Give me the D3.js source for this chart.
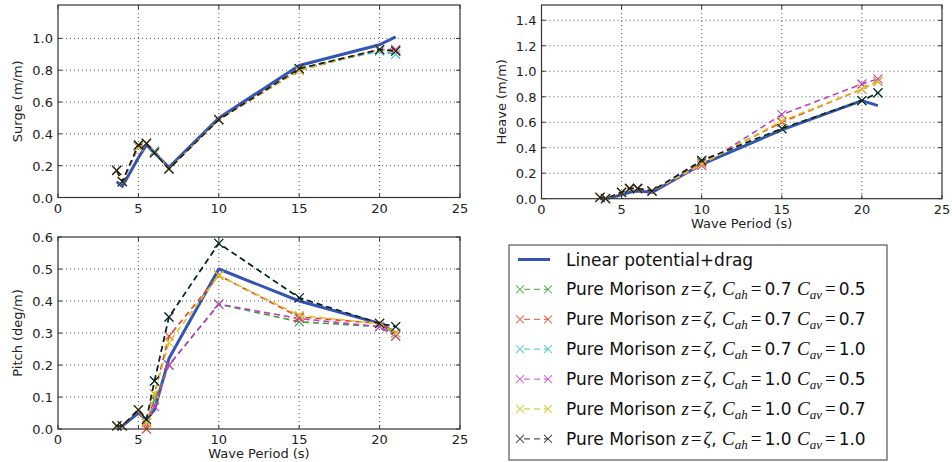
<!DOCTYPE html>
<html>
<head>
<meta charset="utf-8">
<script src="https://cdn.jsdelivr.net/npm/d3@7"></script>
<style>
  body { margin: 0; background: #fff; }
  svg { display: block; font-family: "DejaVu Sans", sans-serif; }
</style>
</head>
<body>
<div id="chart"></div>
<script>
// wave periods (s)
const periods = [3.65, 4, 5, 5.5, 6, 6.9, 10, 15, 20, 21];

// Linear potential + drag
const surgeLinear = [0.10, 0.07, 0.25, 0.33, 0.28, 0.19, 0.50, 0.83, 0.96, 1.01];
const heaveLinear = [0.00, 0.00, 0.03, 0.05, 0.06, 0.05, 0.27, 0.54, 0.77, 0.73];
const pitchLinear = [0.00, 0.01, 0.05, 0.03, 0.06, 0.22, 0.50, 0.40, 0.33, 0.30];

// Pure Morison, one row per (Cah, Cav) case
const cahValues = ["0.7", "0.7", "0.7", "1.0", "1.0", "1.0"];
const cavValues = ["0.5", "0.7", "1.0", "0.5", "0.7", "1.0"];
const morisonColors = ["#3a9d3a", "#f03c2c", "#2cc0c8", "#c040c0", "#d4c820", "#1a1a1a"];

const surgeMorison = [
  [0.17, 0.10, 0.32, 0.34, 0.29, 0.18, 0.49, 0.81, 0.93, 0.92],
  [0.17, 0.10, 0.32, 0.34, 0.29, 0.18, 0.49, 0.80, 0.93, 0.93],
  [0.17, 0.10, 0.33, 0.34, 0.29, 0.18, 0.49, 0.81, 0.92, 0.90],
  [0.17, 0.10, 0.32, 0.34, 0.28, 0.18, 0.49, 0.80, 0.93, 0.93],
  [0.17, 0.10, 0.32, 0.34, 0.28, 0.18, 0.49, 0.80, 0.93, 0.92],
  [0.17, 0.10, 0.33, 0.34, 0.28, 0.18, 0.49, 0.81, 0.93, 0.92]
];
const heaveMorison = [
  [0.01, 0.00, 0.05, 0.08, 0.08, 0.06, 0.29, 0.55, 0.77, 0.83],
  [0.01, 0.00, 0.05, 0.08, 0.08, 0.06, 0.28, 0.60, 0.86, 0.92],
  [0.01, 0.00, 0.05, 0.08, 0.08, 0.06, 0.30, 0.55, 0.77, 0.83],
  [0.01, 0.00, 0.05, 0.08, 0.08, 0.06, 0.26, 0.66, 0.90, 0.94],
  [0.01, 0.00, 0.05, 0.08, 0.08, 0.06, 0.27, 0.61, 0.86, 0.92],
  [0.01, 0.00, 0.05, 0.08, 0.08, 0.06, 0.30, 0.55, 0.77, 0.83]
];
const pitchMorison = [
  [0.01, 0.01, 0.06, 0.02, 0.09, 0.20, 0.39, 0.335, 0.32, 0.29],
  [0.01, 0.01, 0.06, 0.00, 0.11, 0.29, 0.48, 0.35, 0.33, 0.30],
  [0.01, 0.01, 0.06, 0.03, 0.15, 0.35, 0.58, 0.41, 0.33, 0.32],
  [0.01, 0.01, 0.06, 0.02, 0.07, 0.20, 0.39, 0.345, 0.32, 0.29],
  [0.01, 0.01, 0.06, 0.02, 0.11, 0.27, 0.48, 0.355, 0.33, 0.30],
  [0.01, 0.01, 0.06, 0.03, 0.15, 0.35, 0.58, 0.41, 0.33, 0.32]
];

const xTicks = [0, 5, 10, 15, 20, 25];
const surgeTicks = [0, 0.2, 0.4, 0.6, 0.8, 1.0];
const heaveTicks = [0, 0.2, 0.4, 0.6, 0.8, 1.0, 1.2, 1.4];
const pitchTicks = [0, 0.1, 0.2, 0.3, 0.4, 0.5, 0.6];

const width = 952;
const height = 462;

const svg = d3.select("#chart")
  .append("svg")
  .attr("width", width)
  .attr("height", height);

const linearColor = "#3553b5";

// one panel
function drawPanel(opt) {
  const x = d3.scaleLinear().domain([0, 25]).range([opt.left, opt.right]);
  const y = d3.scaleLinear().domain(opt.yDomain).range([opt.bottom, opt.top]);
  const g = svg.append("g");

  // grid
  g.selectAll(".gx")
    .data(xTicks.slice(1, -1))
    .enter().append("line")
    .attr("x1", d => x(d)).attr("x2", d => x(d))
    .attr("y1", opt.top).attr("y2", opt.bottom)
    .attr("stroke", "#555").attr("stroke-width", 1)
    .attr("stroke-dasharray", "1,3");
  g.selectAll(".gy")
    .data(opt.yTicks.slice(1).filter(v => y(v) > opt.top + 1))
    .enter().append("line")
    .attr("x1", opt.left).attr("x2", opt.right)
    .attr("y1", d => y(d)).attr("y2", d => y(d))
    .attr("stroke", "#555").attr("stroke-width", 1)
    .attr("stroke-dasharray", "1,3");

  const line = d3.line().x((d, i) => x(periods[i])).y(d => y(d));

  // linear potential first
  g.append("path")
    .attr("d", line(opt.linear))
    .attr("fill", "none")
    .attr("stroke", linearColor)
    .attr("stroke-width", 3)
    .attr("stroke-linejoin", "round");

  opt.morison.forEach((vals, k) => {
    g.append("path")
      .attr("d", line(vals))
      .attr("fill", "none")
      .attr("stroke", morisonColors[k])
      .attr("stroke-width", 1.6)
      .attr("stroke-dasharray", "6,4");
    vals.forEach((v, i) => {
      const cx = x(periods[i]), cy = y(v), s = 4.5;
      g.append("path")
        .attr("d", `M${cx - s},${cy - s}L${cx + s},${cy + s}M${cx - s},${cy + s}L${cx + s},${cy - s}`)
        .attr("stroke", morisonColors[k])
        .attr("stroke-width", 1.1)
        .attr("fill", "none");
    });
  });

  // frame
  g.append("rect")
    .attr("x", opt.left).attr("y", opt.top)
    .attr("width", opt.right - opt.left)
    .attr("height", opt.bottom - opt.top)
    .attr("fill", "none")
    .attr("stroke", "#333")
    .attr("stroke-width", 1.2);

  // inward ticks
  xTicks.forEach(t => {
    g.append("line").attr("x1", x(t)).attr("x2", x(t))
      .attr("y1", opt.bottom).attr("y2", opt.bottom - 4).attr("stroke", "#333");
    g.append("line").attr("x1", x(t)).attr("x2", x(t))
      .attr("y1", opt.top).attr("y2", opt.top + 4).attr("stroke", "#333");
    g.append("text")
      .attr("x", x(t)).attr("y", opt.bottom + 15)
      .attr("text-anchor", "middle")
      .attr("font-size", "13px").attr("fill", "#222")
      .text(t);
  });
  opt.yTicks.forEach(t => {
    g.append("line").attr("x1", opt.left).attr("x2", opt.left + 4)
      .attr("y1", y(t)).attr("y2", y(t)).attr("stroke", "#333");
    g.append("line").attr("x1", opt.right).attr("x2", opt.right - 4)
      .attr("y1", y(t)).attr("y2", y(t)).attr("stroke", "#333");
    g.append("text")
      .attr("x", opt.left - 5).attr("y", y(t) + 5)
      .attr("text-anchor", "end")
      .attr("font-size", "13px").attr("fill", "#222")
      .text(t.toFixed(1));
  });

  // labels
  const midY = (opt.top + opt.bottom) / 2;
  g.append("text")
    .attr("transform", `translate(${opt.left - 36},${midY}) rotate(-90)`)
    .attr("text-anchor", "middle")
    .attr("font-size", "13px").attr("fill", "#222")
    .text(opt.yLabel);
  if (opt.xLabel) {
    g.append("text")
      .attr("x", (opt.left + opt.right) / 2).attr("y", opt.bottom + 29)
      .attr("text-anchor", "middle")
      .attr("font-size", "13px").attr("fill", "#222")
      .text(opt.xLabel);
  }
}

drawPanel({
  left: 58, right: 460, top: 5, bottom: 197.5,
  yDomain: [0, 1.21], yTicks: surgeTicks,
  linear: surgeLinear, morison: surgeMorison,
  yLabel: "Surge (m/m)"
});

drawPanel({
  left: 541.5, right: 942, top: 5, bottom: 198.7,
  yDomain: [0, 1.52], yTicks: heaveTicks,
  linear: heaveLinear, morison: heaveMorison,
  yLabel: "Heave (m/m)", xLabel: "Wave Period (s)"
});

drawPanel({
  left: 58, right: 460, top: 237, bottom: 429,
  yDomain: [0, 0.6], yTicks: pitchTicks,
  linear: pitchLinear, morison: pitchMorison,
  yLabel: "Pitch (deg/m)", xLabel: "Wave Period (s)"
});

// legend
const legend = svg.append("g");
legend.append("rect")
  .attr("x", 509).attr("y", 245)
  .attr("width", 378).attr("height", 215)
  .attr("fill", "#fff")
  .attr("stroke", "#555")
  .attr("stroke-width", 1.2);

const rowY = i => 259.5 + i * 29.9;
const textX = 566;

legend.append("line")
  .attr("x1", 518).attr("x2", 550)
  .attr("y1", rowY(0)).attr("y2", rowY(0))
  .attr("stroke", linearColor).attr("stroke-width", 3);
legend.append("text")
  .attr("x", textX).attr("y", rowY(0) + 6)
  .attr("font-size", "17px").attr("fill", "#111")
  .text("Linear potential+drag");

const serif = "'Liberation Serif', 'DejaVu Serif', serif";

cahValues.forEach((cah, k) => {
  const yy = rowY(k + 1);
  const col = morisonColors[k];
  [520, 548].forEach(cx => {
    legend.append("path")
      .attr("d", `M${cx - 4},${yy - 4}L${cx + 4},${yy + 4}M${cx - 4},${yy + 4}L${cx + 4},${yy - 4}`)
      .attr("stroke", col).attr("stroke-width", 1.1).attr("opacity", 0.75);
  });
  legend.append("line")
    .attr("x1", 520).attr("x2", 548)
    .attr("y1", yy).attr("y2", yy)
    .attr("stroke", col).attr("stroke-width", 1.3)
    .attr("stroke-dasharray", "6,4").attr("stroke-dashoffset", -4)
    .attr("opacity", 0.75);

  const t = legend.append("text")
    .attr("x", textX).attr("y", yy + 6)
    .attr("font-size", "17px").attr("fill", "#111");
  t.append("tspan").text("Pure Morison ");
  t.append("tspan").attr("font-family", serif).attr("font-style", "italic").attr("font-size", "19px").text("z");
  t.append("tspan").attr("font-family", serif).attr("font-size", "19px").attr("dx", 2).text("=");
  t.append("tspan").attr("font-family", serif).attr("font-style", "italic").attr("font-size", "19px").attr("dx", 2).text("ζ");
  t.append("tspan").text(", ");
  t.append("tspan").attr("font-family", serif).attr("font-style", "italic").attr("font-size", "19px").text("C");
  t.append("tspan").attr("font-family", serif).attr("font-style", "italic").attr("font-size", "13px").attr("dy", 4).text("ah");
  t.append("tspan").attr("font-family", serif).attr("font-size", "19px").attr("dy", -4).attr("dx", 3).text("=");
  t.append("tspan").attr("dx", 3).text(cah + " ");
  t.append("tspan").attr("font-family", serif).attr("font-style", "italic").attr("font-size", "19px").text("C");
  t.append("tspan").attr("font-family", serif).attr("font-style", "italic").attr("font-size", "13px").attr("dy", 4).text("av");
  t.append("tspan").attr("font-family", serif).attr("font-size", "19px").attr("dy", -4).attr("dx", 3).text("=");
  t.append("tspan").attr("dx", 3).text(cavValues[k]);
});
</script>
</body>
</html>
